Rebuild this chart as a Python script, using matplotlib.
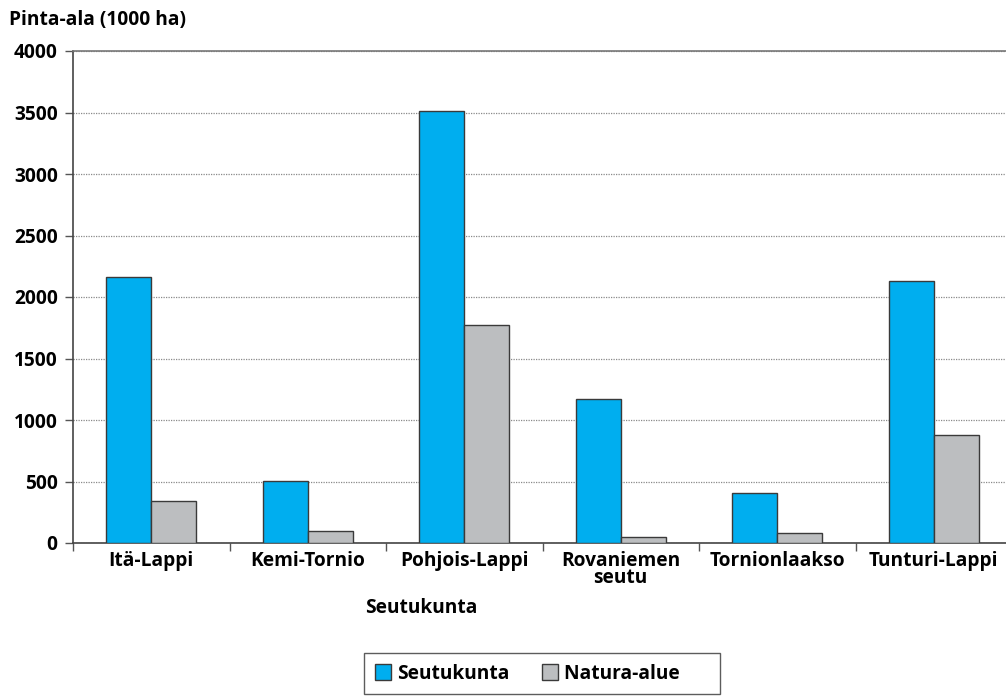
import numpy as np
import matplotlib
matplotlib.use("Agg")
import matplotlib.pyplot as plt
from matplotlib.patches import Patch

# data
regions = ['Itä-Lappi', 'Kemi-Tornio', 'Pohjois-Lappi', 'Rovaniemen\nseutu', 'Tornionlaakso', 'Tunturi-Lappi']
seutukunta = [2163, 504, 3512, 1171, 406, 2130]
natura = [341, 95, 1772, 48, 81, 878]
yticks = [0, 500, 1000, 1500, 2000, 2500, 3000, 3500, 4000]

blue = '#00AEEF'
grey = '#BCBEC0'
edge = '#3a3a3a'

plt.rcParams['font.family'] = ['Open Sans', 'DejaVu Sans']
plt.rcParams['font.weight'] = 'bold'
fs = 13.8

fig = plt.figure(figsize=(10.06, 6.97), dpi=100)
ax = fig.add_axes([73/1006, 154/697, 939/1006, 492/697])

x = np.arange(len(regions))
w = 0.2875
ax.bar(x - w/2, seutukunta, w, color=blue, edgecolor=edge, linewidth=1.0, zorder=3)
ax.bar(x + w/2, natura, w, color=grey, edgecolor=edge, linewidth=1.0, zorder=3)

ax.set_xlim(-0.5, len(regions) - 0.5)
ax.set_ylim(0, 4000)
ax.set_yticks(yticks)
ax.set_yticklabels([str(v) for v in yticks], fontsize=fs, fontweight='bold')
ax.yaxis.grid(True, linestyle=(0, (1, 1)), color='#8a8a8a', linewidth=0.9, zorder=0)

# category labels between boundary ticks
ax.set_xticks(np.arange(len(regions) + 1) - 0.5)
ax.set_xticklabels([])
ax.set_xticks(x, minor=True)
ax.set_xticklabels(regions, minor=True, fontsize=fs, fontweight='bold', linespacing=0.8)
ax.tick_params(axis='x', which='minor', length=0, pad=6)
ax.tick_params(axis='x', which='major', length=6, width=1, color='#555555', direction='out')
ax.tick_params(axis='y', length=6, width=1, color='#555555', pad=5)

for s in ['left', 'bottom']:
    ax.spines[s].set_color('#444444')
    ax.spines[s].set_linewidth(1.2)
ax.spines['top'].set_color('#777777')
ax.spines['top'].set_linewidth(1.2)
ax.spines['right'].set_visible(False)

fig.text(9/1006, 1 - 20/697, 'Pinta-ala (1000 ha)', fontsize=fs, fontweight='bold',
         ha='left', va='center')
fig.text(421/1006, 1 - 608/697, 'Seutukunta', fontsize=fs, fontweight='bold',
         ha='center', va='center')

handles = [Patch(facecolor=blue, edgecolor=edge, label='Seutukunta'),
           Patch(facecolor=grey, edgecolor=edge, label='Natura-alue      ')]
leg = fig.legend(handles=handles, loc='upper left', bbox_to_anchor=(364/1006, 1 - 653/697),
                 ncol=2, frameon=True, fancybox=False, fontsize=fs, borderpad=0.55,
                 handlelength=0.85, handleheight=0.85, handletextpad=0.3, columnspacing=1.7,
                 borderaxespad=0)
leg.get_frame().set_edgecolor('#333333')
leg.get_frame().set_linewidth(1.0)

fig.savefig('out.png', dpi=100)
